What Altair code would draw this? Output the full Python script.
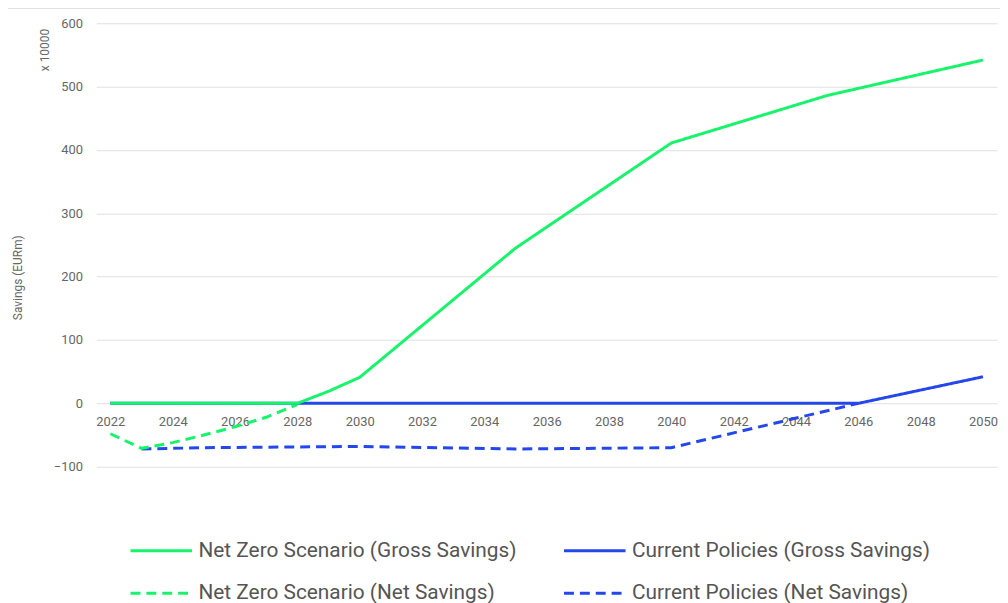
import altair as alt
import pandas as pd

series_names = [
    "Net Zero Scenario (Gross Savings)",
    "Net Zero Scenario (Net Savings)",
    "Current Policies (Gross Savings)",
    "Current Policies (Net Savings)",
]
series_colors = ["#17f46b", "#17f46b", "#2447ea", "#2447ea"]
series_dashes = [[1, 0], [10, 6], [1, 0], [10, 6]]

nz_gross_years = [2022, 2023, 2024, 2025, 2026, 2027, 2028, 2029, 2030, 2035, 2040, 2045, 2050]
nz_gross_vals = [0, 0, 0, 0, 0, 0, 0, 19, 41, 245, 411, 486, 542]

cp_gross_years = [2022, 2030, 2035, 2040, 2046, 2050]
cp_gross_vals = [0, 0, 0, 0, 0, 42]

nz_net_years = [2022, 2023, 2024, 2025, 2026, 2027, 2028]
nz_net_vals = [-48, -71, -62, -50, -37, -22, -2]

cp_net_years = [2023, 2024, 2025, 2030, 2035, 2040, 2046]
cp_net_vals = [-72, -71, -70, -68, -72, -70, 0]

x_ticks = list(range(2022, 2051, 2))
y_ticks = [-100, 0, 100, 200, 300, 400, 500, 600]

rows = []
for name, ys, vs in [
    (series_names[0], nz_gross_years, nz_gross_vals),
    (series_names[1], nz_net_years, nz_net_vals),
    (series_names[2], cp_gross_years, cp_gross_vals),
    (series_names[3], cp_net_years, cp_net_vals),
]:
    for y, v in zip(ys, vs):
        rows.append({"year": y, "value": v, "series": name})
df = pd.DataFrame(rows)

FONT = "Roboto"
GRAY = "#666666"

base = alt.Chart(df).encode(
    x=alt.X(
        "year:Q",
        scale=alt.Scale(domain=[2021.55, 2050.45], nice=False, zero=False),
        axis=alt.Axis(
            values=x_ticks,
            format="d",
            title=None,
            grid=False,
            domain=False,
            ticks=False,
            offset=-64,
            labelPadding=12,
            labelFont=FONT,
            labelFontSize=13,
            labelColor=GRAY,
        ),
    ),
    y=alt.Y(
        "value:Q",
        scale=alt.Scale(domain=[-100, 600], nice=False),
        axis=alt.Axis(
            values=y_ticks,
            title="Savings (EURm)",
            titleFont=FONT,
            titleFontSize=12,
            titleFontWeight="normal",
            titleColor=GRAY,
            titleX=-79,
            titleY=256,
            titleAngle=270,
            titleAlign="center",
            titleBaseline="middle",
            domain=False,
            ticks=False,
            labelPadding=14,
            labelFont=FONT,
            labelFontSize=13,
            labelColor=GRAY,
            gridColor="#e0e0e0",
            gridWidth=1,
        ),
    ),
    color=alt.Color(
        "series:N",
        scale=alt.Scale(domain=series_names, range=series_colors),
        legend=alt.Legend(
            title=None,
            orient="none",
            legendX=33,
            legendY=499,
            columns=2,
            columnPadding=41,
            rowPadding=-32,
            symbolType="stroke",
            symbolSize=3844,
            symbolStrokeWidth=3,
            labelOffset=5,
            labelFont=FONT,
            labelFontSize=21,
            labelColor="#555555",
            labelLimit=600,
        ),
    ),
    strokeDash=alt.StrokeDash(
        "series:N",
        scale=alt.Scale(domain=series_names, range=series_dashes),
        legend=alt.Legend(title=None),
    ),
)

draw_order = [series_names[3], series_names[1], series_names[2], series_names[0]]
layers = [
    base.transform_filter(alt.datum.series == s).mark_line(strokeWidth=3)
    for s in draw_order
]

scale_note = alt.Chart(pd.DataFrame({"t": ["x 10000"]})).mark_text(
    angle=270, font=FONT, fontSize=12, color=GRAY, align="center", baseline="middle"
).encode(text="t:N", x=alt.value(-52), y=alt.value(27))

top_rule = alt.Chart(pd.DataFrame({"a": [0]})).mark_rule(color="#dddddd", strokeWidth=1).encode(
    x=alt.value(-97), x2=alt.value(911), y=alt.value(-15)
)

chart = alt.layer(top_rule, *layers, scale_note).properties(
    width=908,
    height=447,
    autosize=alt.AutoSizeParams(type="none"),
    padding={"left": 89, "top": 13, "right": 3, "bottom": 136},
).configure(font=FONT).configure_view(stroke=None)

chart.save("out.html", embed_options={"renderer": "svg", "actions": False})
